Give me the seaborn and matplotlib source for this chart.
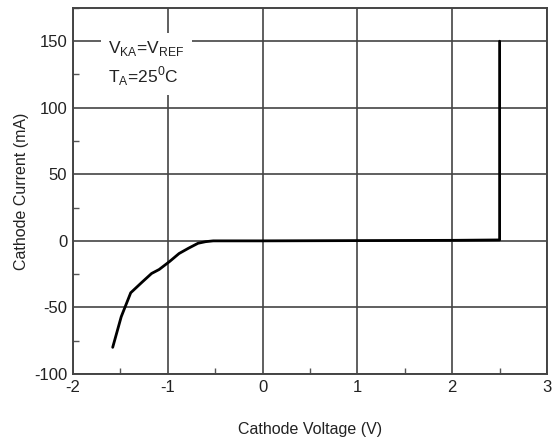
import matplotlib
matplotlib.use("Agg")
import matplotlib.pyplot as plt
import seaborn as sns
import pandas as pd
from matplotlib.ticker import MultipleLocator

voltage = [-1.58, -1.49, -1.39, -1.27, -1.17, -1.09, -0.98, -0.88, -0.78, -0.68, -0.60, -0.52, 0.0, 1.0, 2.0, 2.5, 2.5]
current = [-80, -57, -39, -31, -24.5, -21.5, -15.5, -9.5, -5.5, -1.8, -0.6, 0.0, 0.0, 0.2, 0.4, 0.7, 150]

xticks = [-2, -1, 0, 1, 2, 3]
yticks = [-100, -50, 0, 50, 100, 150]

sns.set_theme(style="white")
plt.rcParams['font.family'] = ['Liberation Sans', 'DejaVu Sans']
plt.rcParams['axes.unicode_minus'] = False

df = pd.DataFrame({"Cathode Voltage (V)": voltage, "Cathode Current (mA)": current})

fig = plt.figure(figsize=(5.52, 4.41), dpi=100)
ax = fig.add_axes([0.132, 0.152, 0.859, 0.830])

sns.lineplot(data=df, x="Cathode Voltage (V)", y="Cathode Current (mA)", sort=False,
             estimator=None, errorbar=None,
             color="black", linewidth=2.0, ax=ax, zorder=3)

ax.set_xlim(-2, 3)
ax.set_ylim(-100, 175)
ax.set_xticks(xticks)
ax.set_yticks(yticks)
ax.xaxis.set_minor_locator(MultipleLocator(0.5))
ax.yaxis.set_minor_locator(MultipleLocator(25))
ax.grid(True, which="major", color="#444444", linewidth=1.2)
ax.tick_params(which="both", direction="in", labelsize=12, colors="#222222")
ax.tick_params(which="major", length=0, pad=4)
ax.tick_params(which="minor", length=4, width=1, color="#555555")
ax.tick_params(axis="both", which="both", bottom=True, left=True, top=False, right=False)
for s in ax.spines.values():
    s.set_color("#444444")
    s.set_linewidth(1.4)

ax.set_xlabel("Cathode Voltage (V)", fontsize=11.5, labelpad=20, color="#222222")
ax.set_ylabel("Cathode Current (mA)", fontsize=11.5, labelpad=4, color="#222222")

ax.text(0.075, 0.915, "V$_{\\mathregular{KA}}$=V$_{\\mathregular{REF}}$\nT$_{\\mathregular{A}}$=25$^{\\mathregular{0}}$C",
        transform=ax.transAxes, fontsize=12.5, va="top", ha="left", color="#222222",
        linespacing=1.35, zorder=4,
        bbox=dict(facecolor="white", edgecolor="none", pad=5))

fig.savefig("out.png", dpi=100)
